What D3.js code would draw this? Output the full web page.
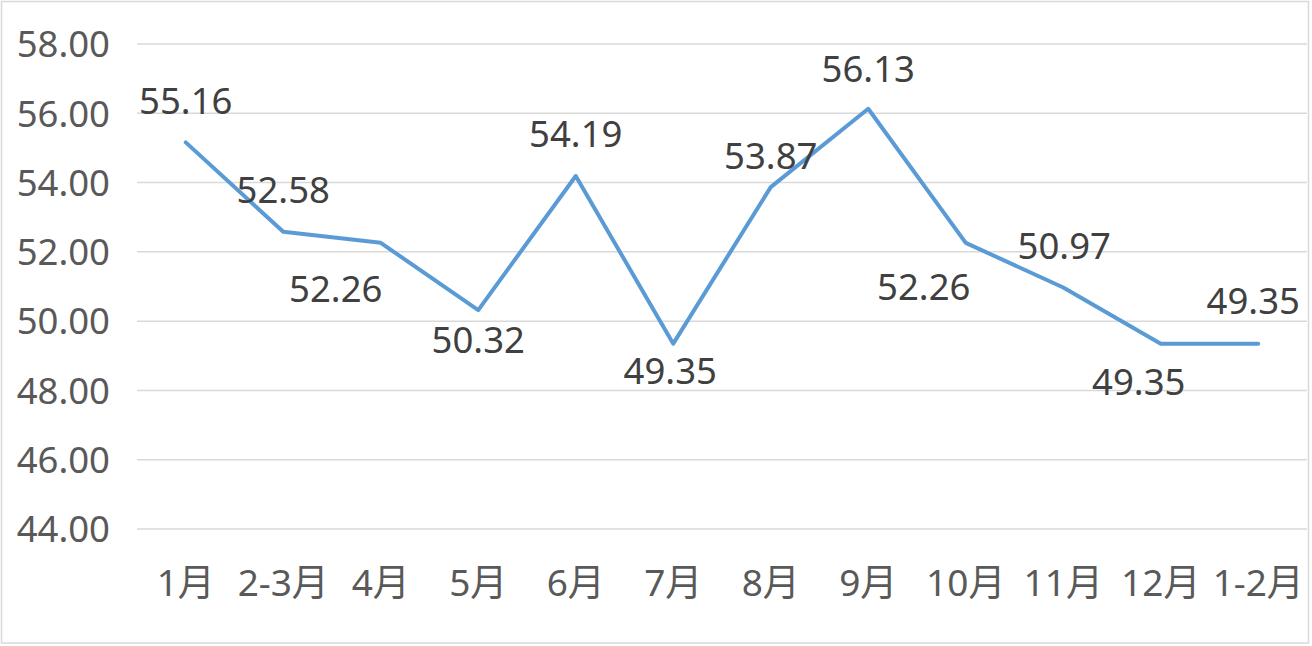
<!DOCTYPE html>
<html><head><meta charset="utf-8">
<script src="https://cdn.jsdelivr.net/npm/d3@7"></script>
<style>html,body{margin:0;padding:0;background:#fff;}svg{display:block;}</style>
</head><body>
<script>
const categories = ["1月","2-3月","4月","5月","6月","7月","8月","9月","10月","11月","12月","1-2月"];
const values = [55.16,52.58,52.26,50.32,54.19,49.35,53.87,56.13,52.26,50.97,49.35,49.35];
const yTicks = [44,46,48,50,52,54,56,58];
// label placement offsets (px) relative to each point
const labelDx = [0,0,-45,0,0,-3,0,0,-42,1,-22,-5];
const labelDy = [-41,-42,46,30,-42,28,-31,-40,44,-41,39,-42];

const W=1312,H=646;
const svg=d3.select("body").append("svg").attr("width",W).attr("height",H);
svg.append("rect").attr("x",1.5).attr("y",1.5).attr("width",W-5).attr("height",H-4.5)
  .attr("fill","#fff").attr("stroke","#d9d9d9").attr("stroke-width",1.5);

const pL=137,pR=1307,pT=44,pB=529;
const x=d3.scaleBand().domain(categories).range([pL,pR]);
const y=d3.scaleLinear().domain([44,58]).range([pB,pT]);
const font='"Noto Sans","Noto Sans CJK SC",sans-serif';

const g=svg.append("g");
g.selectAll("line.grid").data(yTicks).join("line").attr("class","grid")
  .attr("x1",pL).attr("x2",pR).attr("y1",d=>y(d)).attr("y2",d=>y(d))
  .attr("stroke","#d9d9d9").attr("stroke-width",1.5);

const yAxis=d3.axisLeft(y).tickValues(yTicks).tickFormat(d3.format(".2f")).tickSize(0).tickPadding(0);
const ya=svg.append("g").attr("transform",`translate(110,0)`).call(yAxis);
ya.select(".domain").remove();
ya.selectAll("text").attr("font-family",font).attr("font-size",36.5).attr("fill","#595959").attr("dy","0.35em");

const xAxis=d3.axisBottom(x).tickSize(0).tickPadding(0);
const xa=svg.append("g").attr("transform",`translate(0,583)`).call(xAxis);
xa.select(".domain").remove();
xa.selectAll("text").attr("font-family",font).attr("font-size",37).attr("fill","#595959").attr("dy","0.35em");

const cx=d=>x(d)+x.bandwidth()/2;
const line=d3.line().x((d,i)=>cx(categories[i])).y(d=>y(d));
svg.append("path").datum(values).attr("d",line).attr("fill","none")
  .attr("stroke","#5b9bd5").attr("stroke-width",4).attr("stroke-linejoin","round").attr("stroke-linecap","round");

svg.selectAll("text.lbl").data(values).join("text").attr("class","lbl")
  .attr("x",(d,i)=>cx(categories[i])+labelDx[i]).attr("y",(d,i)=>y(d)+labelDy[i])
  .attr("text-anchor","middle").attr("dy","0.35em")
  .attr("font-family",font).attr("font-size",36.5).attr("fill","#404040")
  .text(d=>d.toFixed(2));
</script>
</body></html>
